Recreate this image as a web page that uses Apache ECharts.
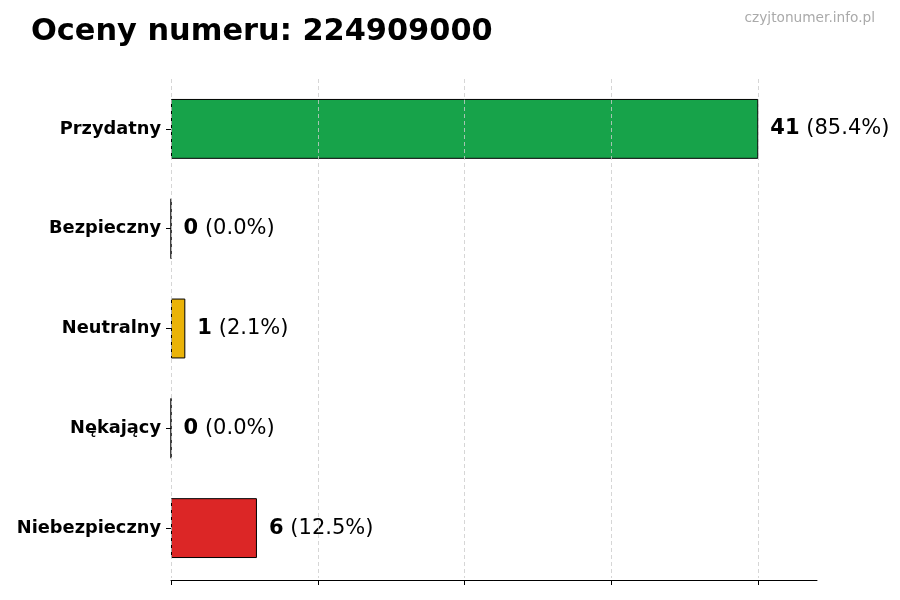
<!DOCTYPE html>
<html><head><meta charset="utf-8">
<script src="https://cdn.jsdelivr.net/npm/echarts@6/dist/echarts.min.js"></script>
<style>html,body{margin:0;padding:0;background:#fff}#c{width:900px;height:600px}</style>
</head><body><div id="c"></div>
<script>
const categories = ['Przydatny','Bezpieczny','Neutralny','Nękający','Niebezpieczny'];
const counts = [41, 0, 1, 0, 6];
const percents = ['85.4','0.0','2.1','0.0','12.5'];
const colors = ['#17a34a','#3b82f6','#eab308','#f97316','#dc2626'];
const xTicks = [0, 10.25, 20.5, 30.75, 41];
const xMax = 45.1;
const titleText = 'Oceny numeru: 224909000';
const watermark = 'czyjtonumer.info.pl';

const chart = echarts.init(document.getElementById('c'));
const FONT = 'DejaVu Sans';
chart.setOption({
  animation: false,
  textStyle: {fontFamily: FONT},
  title: [
    {text: titleText, left: 31, top: 17, padding: 0, textStyle: {fontFamily: FONT, fontSize: 30.4, fontWeight: 'bold', color: '#000'}},
    {text: watermark, right: 25, top: 11, padding: 0, textStyle: {fontFamily: FONT, fontSize: 13.7, fontWeight: 'normal', color: '#aaaaaa'}}
  ],
  grid: {left: 171, right: 83, top: 79, bottom: 22, containLabel: false},
  xAxis: {
    type: 'value', min: 0, max: xMax, offset: 2,
    axisLine: {show: true, lineStyle: {color: '#000', width: 1}},
    axisTick: {show: true, length: 5, lineStyle: {color: '#000'}, customValues: xTicks},
    axisLabel: {show: false},
    splitLine: {show: false}
  },
  yAxis: {
    type: 'category', data: categories, inverse: true,
    axisLine: {show: false},
    axisTick: {show: true, alignWithLabel: true, length: 5, lineStyle: {color: '#000'}},
    axisLabel: {fontFamily: FONT, fontSize: 17.8, fontWeight: 'bold', color: '#000', margin: 10}
  },
  series: [{
    type: 'bar',
    barWidth: '60%',
    data: counts.map((v, i) => ({value: v, itemStyle: {color: colors[i]}})),
    itemStyle: {borderColor: '#000', borderWidth: 1},
    label: {
      show: true, position: 'right', distance: 12,
      formatter: p => '{b|' + counts[p.dataIndex] + '} {n|(' + percents[p.dataIndex] + '%)}',
      rich: {
        b: {fontFamily: FONT, fontSize: 21, fontWeight: 'bold', color: '#000'},
        n: {fontFamily: FONT, fontSize: 21, color: '#000', padding: [0, 0, 0, 3]}
      }
    },
    markLine: {
      silent: true, symbol: 'none', label: {show: false},
      lineStyle: {color: '#cccccc', type: [4, 3], width: 0.8},
      data: xTicks.map(v => ({xAxis: v}))
    },
    z: 2
  }]
});
</script></body></html>
